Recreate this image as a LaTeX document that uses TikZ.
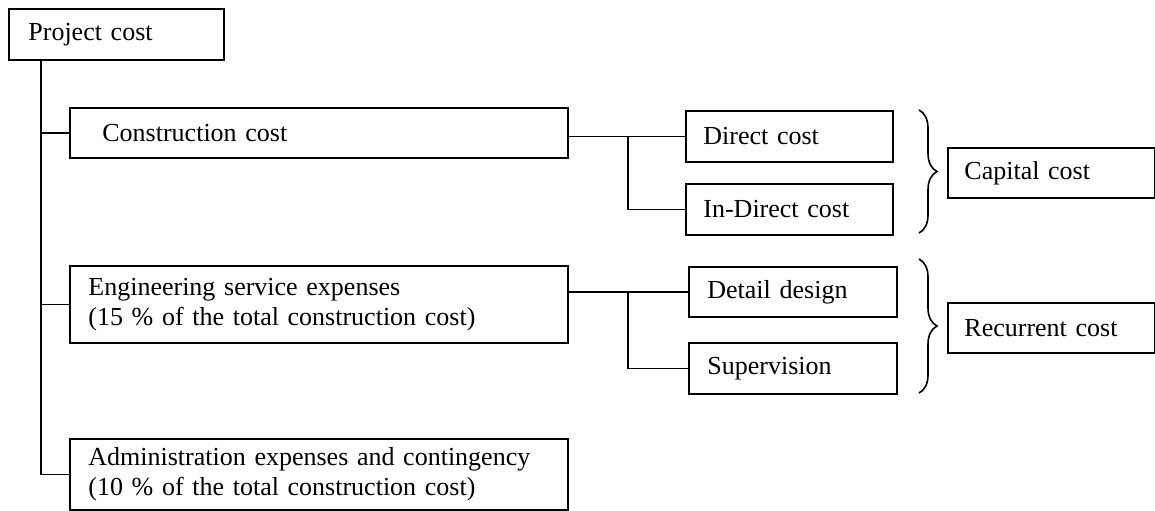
\documentclass[tikz,border=0pt]{standalone}
\usepackage{fontspec}
\setmainfont{Liberation Serif}
\usetikzlibrary{decorations.pathreplacing}

\tikzset{
  costbox/.style={draw, rectangle, anchor=north west, align=left, line width=0.9pt, inner ysep=1pt},
  link/.style={line width=0.9pt},
  costbrace/.style={line width=0.8pt, decorate, decoration={brace, amplitude=9pt}}
}

\begin{document}
\begin{tikzpicture}[x=0.5pt, y=-0.5pt, font=\fontsize{13}{15}\selectfont]
  \useasboundingbox (0,0) rectangle (1155,510);
  % Nodes
  \node[costbox, minimum width=107.5pt, minimum height=25.5pt, inner xsep=9.5pt, text width=88pt] (pc) at (8,8) {Project cost};
  \node[costbox, minimum width=249pt, minimum height=25pt, inner xsep=16pt, text width=216.5pt] (cc) at (69,107) {Construction cost};
  \node[costbox, minimum width=249pt, minimum height=38.5pt, inner xsep=9pt, text width=230.5pt] (es) at (69,265) {Engineering service expenses\\(15 \% of the total construction cost)};
  \node[costbox, minimum width=249pt, minimum height=35.5pt, inner xsep=9pt, text width=230.5pt] (ae) at (69,438) {Administration expenses and contingency\\(10 \% of the total construction cost)};

  \node[costbox, minimum width=103.5pt, minimum height=25.5pt, inner xsep=8.5pt, text width=86pt] (dc) at (685,110) {Direct cost};
  \node[costbox, minimum width=103.5pt, minimum height=25.5pt, inner xsep=8.5pt, text width=86pt] (ic) at (685,183) {In-Direct cost};
  \node[costbox, minimum width=104pt, minimum height=25pt, inner xsep=9pt, text width=85.5pt] (dd) at (688,266) {Detail design};
  \node[costbox, minimum width=104pt, minimum height=25.5pt, inner xsep=9pt, text width=85.5pt] (sv) at (688,342) {Supervision};

  \node[costbox, minimum width=103.5pt, minimum height=25pt, inner xsep=8pt, text width=87pt] (cap) at (947,147) {Capital cost};
  \node[costbox, minimum width=103.5pt, minimum height=25pt, inner xsep=8pt, text width=87pt] (rec) at (947,302) {Recurrent cost};

  % Edges
  \draw[link] (pc.south west) ++(33,0) coordinate (trunk) |- (ae.west);
  \draw[link] (trunk |- cc.west) -- (cc.west);
  \draw[link] (trunk |- es.west) -- (es.west);

  \draw[link] (cc.east |- dc.west) -- (dc.west);
  \draw[link] (dc.west) ++(-57,0) coordinate (split) |- (ic.west);
  \draw[link] (es.east |- dd.west) -- (dd.west);
  \draw[link] (split |- dd.west) |- (sv.west);

  % Braces
  \coordinate (capA) at (919,110);
  \coordinate (capB) at (919,233);
  \coordinate (recA) at (919,259);
  \coordinate (recB) at (919,393);
  \draw[costbrace] (capA) -- (capB);
  \draw[costbrace] (recA) -- (recB);
\end{tikzpicture}
\end{document}
